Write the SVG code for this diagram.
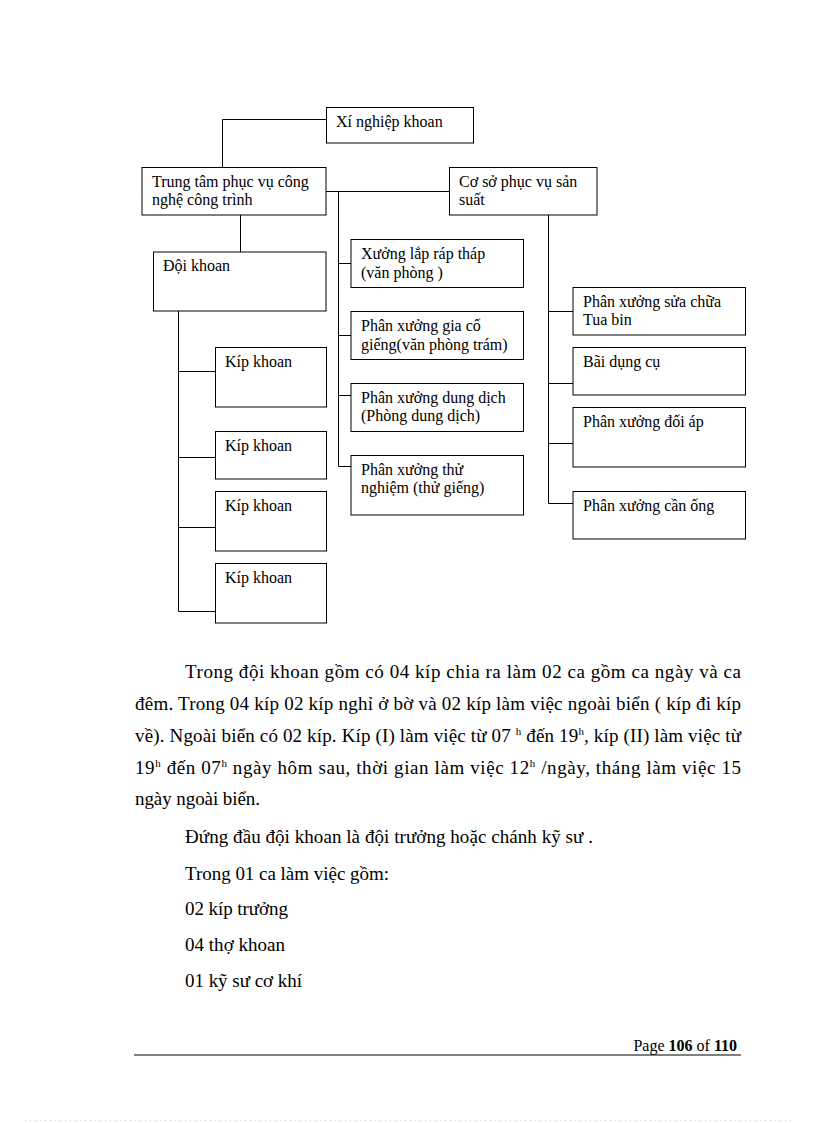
<svg xmlns="http://www.w3.org/2000/svg" width="816" height="1123" viewBox="0 0 816 1123">
<style>
  .box { fill: #ffffff; stroke: #000000; stroke-width: 1; }
  .conn { fill: none; stroke: #000000; stroke-width: 1; }
  .lbl { font-family: "Liberation Serif", "Times New Roman", serif; font-size: 16px; fill: #000000; }
  .para { font-family: "Liberation Serif", "Times New Roman", serif; font-size: 19px; fill: #000000; }
  .sup { font-size: 11px; }
  .foot { font-family: "Liberation Serif", "Times New Roman", serif; font-size: 16px; fill: #000000; }
</style>
<rect x="0" y="0" width="816" height="1123" fill="#ffffff"/>

<g id="connectors">
  <polyline class="conn" points="326,119.5 222.5,119.5 222.5,167"/>
  <line class="conn" x1="240.5" y1="215" x2="240.5" y2="252"/>
  <line class="conn" x1="326" y1="191.5" x2="449" y2="191.5"/>
  <polyline class="conn" points="338.5,191.5 338.5,466.5 351,466.5"/>
  <line class="conn" x1="338.5" y1="263.5" x2="351" y2="263.5"/>
  <line class="conn" x1="338.5" y1="335.5" x2="351" y2="335.5"/>
  <line class="conn" x1="338.5" y1="395.5" x2="351" y2="395.5"/>
  <polyline class="conn" points="178.5,311 178.5,611.5 215,611.5"/>
  <line class="conn" x1="178.5" y1="371.5" x2="215" y2="371.5"/>
  <line class="conn" x1="178.5" y1="457.5" x2="215" y2="457.5"/>
  <line class="conn" x1="178.5" y1="527.5" x2="215" y2="527.5"/>
  <polyline class="conn" points="548.5,215 548.5,503.5 573,503.5"/>
  <line class="conn" x1="548.5" y1="311.5" x2="573" y2="311.5"/>
  <line class="conn" x1="548.5" y1="383.5" x2="573" y2="383.5"/>
  <line class="conn" x1="548.5" y1="443.5" x2="573" y2="443.5"/>
</g>

<g id="xi-nghiep-khoan">
  <rect class="box" x="326.5" y="107.5" width="147" height="35.5"/>
  <text class="lbl" x="336" y="127">Xí nghiệp  khoan</text>
</g>
<g id="trung-tam">
  <rect class="box" x="142" y="167.5" width="184" height="47.5"/>
  <text class="lbl" x="152" y="187">Trung  tâm phục vụ công</text>
  <text class="lbl" x="152" y="205">nghệ  công trình</text>
</g>
<g id="co-so">
  <rect class="box" x="449.5" y="167.5" width="147.5" height="47.5"/>
  <text class="lbl" x="459" y="187">Cơ sở phục vụ sản</text>
  <text class="lbl" x="459" y="205">suất</text>
</g>
<g id="doi-khoan">
  <rect class="box" x="153.5" y="252" width="172.5" height="59"/>
  <text class="lbl" x="163" y="271">Đội khoan</text>
</g>
<g id="kip-khoan-1">
  <rect class="box" x="215.5" y="347.5" width="111" height="59.5"/>
  <text class="lbl" x="225" y="367">Kíp khoan</text>
</g>
<g id="kip-khoan-2">
  <rect class="box" x="215.5" y="431.5" width="111" height="47.5"/>
  <text class="lbl" x="225" y="451">Kíp khoan</text>
</g>
<g id="kip-khoan-3">
  <rect class="box" x="215.5" y="491.5" width="111" height="59.5"/>
  <text class="lbl" x="225" y="511">Kíp khoan</text>
</g>
<g id="kip-khoan-4">
  <rect class="box" x="215.5" y="563.5" width="111" height="59.5"/>
  <text class="lbl" x="225" y="583">Kíp khoan</text>
</g>
<g id="xuong-lap-rap">
  <rect class="box" x="351" y="239.5" width="172.5" height="48"/>
  <text class="lbl" x="361" y="259">Xưởng lắp ráp tháp</text>
  <text class="lbl" x="361" y="277.5">(văn phòng )</text>
</g>
<g id="px-gia-co">
  <rect class="box" x="351" y="311.5" width="172.5" height="48"/>
  <text class="lbl" x="361" y="331">Phân xưởng gia cố</text>
  <text class="lbl" x="361" y="349.5">giếng(văn  phòng trám)</text>
</g>
<g id="px-dung-dich">
  <rect class="box" x="351" y="383.5" width="172.5" height="48"/>
  <text class="lbl" x="361" y="403">Phân xưởng dung dịch</text>
  <text class="lbl" x="361" y="421">(Phòng dung dịch)</text>
</g>
<g id="px-thu-nghiem">
  <rect class="box" x="351" y="455.5" width="172.5" height="59.5"/>
  <text class="lbl" x="361" y="475">Phân xưởng thử</text>
  <text class="lbl" x="361" y="493">nghiệm  (thử giếng)</text>
</g>
<g id="px-sua-chua">
  <rect class="box" x="573" y="287.5" width="172.5" height="47.5"/>
  <text class="lbl" x="583" y="307">Phân xưởng sửa chữa</text>
  <text class="lbl" x="583" y="324.5">Tua bin</text>
</g>
<g id="bai-dung-cu">
  <rect class="box" x="573" y="347.5" width="172.5" height="47.5"/>
  <text class="lbl" x="583" y="367">Bãi dụng cụ</text>
</g>
<g id="px-doi-ap">
  <rect class="box" x="573" y="407.5" width="172.5" height="59.5"/>
  <text class="lbl" x="583" y="427">Phân xưởng đối áp</text>
</g>
<g id="px-can-ong">
  <rect class="box" x="573" y="491.5" width="172.5" height="47.5"/>
  <text class="lbl" x="583" y="511">Phân xưởng cần ống</text>
</g>

<g id="body-text">
  <text class="para" x="185" y="678" textLength="556" lengthAdjust="spacing">Trong đội khoan gồm có 04 kíp  chia ra làm  02  ca gồm ca ngày và  ca</text>
  <text class="para" x="135" y="710" textLength="606" lengthAdjust="spacing">đêm. Trong 04 kíp 02 kíp nghỉ  ở bờ và 02 kíp làm việc ngoài biển ( kíp đi kíp</text>
  <text class="para" x="135" y="742" textLength="606" lengthAdjust="spacing">về). Ngoài biển có 02 kíp. Kíp (I) làm việc từ 07 <tspan class="sup" dy="-7">h</tspan><tspan dy="7"> đến 19</tspan><tspan class="sup" dy="-7">h</tspan><tspan dy="7">, kíp (II) làm việc từ</tspan></text>
  <text class="para" x="135" y="774" textLength="606" lengthAdjust="spacing">19<tspan class="sup" dy="-7">h</tspan><tspan dy="7"> đến 07</tspan><tspan class="sup" dy="-7">h</tspan><tspan dy="7"> ngày  hôm sau, thời  gian làm  việc  12</tspan><tspan class="sup" dy="-7">h</tspan><tspan dy="7"> /ngày, tháng làm việc  15</tspan></text>
  <text class="para" x="135" y="805" textLength="125" lengthAdjust="spacing">ngày ngoài biển.</text>
  <text class="para" x="185" y="843" textLength="408" lengthAdjust="spacing">Đứng đầu đội khoan là đội trưởng hoặc chánh kỹ sư .</text>
  <text class="para" x="185" y="880" textLength="204" lengthAdjust="spacing">Trong 01  ca làm việc gồm:</text>
  <text class="para" x="185" y="915" textLength="103" lengthAdjust="spacing">02 kíp trưởng</text>
  <text class="para" x="185" y="951" textLength="100" lengthAdjust="spacing">04 thợ khoan</text>
  <text class="para" x="185" y="987" textLength="117" lengthAdjust="spacing">01 kỹ sư cơ khí</text>
</g>

<g id="footer">
  <text class="foot" x="737" y="1051" text-anchor="end">Page <tspan font-weight="bold">106</tspan> of <tspan font-weight="bold">110</tspan></text>
  <line x1="134" y1="1055" x2="741" y2="1055" stroke="#000000" stroke-width="1"/>
  <line x1="25" y1="1120.5" x2="795" y2="1120.5" stroke="#cccccc" stroke-width="1" stroke-dasharray="1 4"/>
</g>
</svg>
